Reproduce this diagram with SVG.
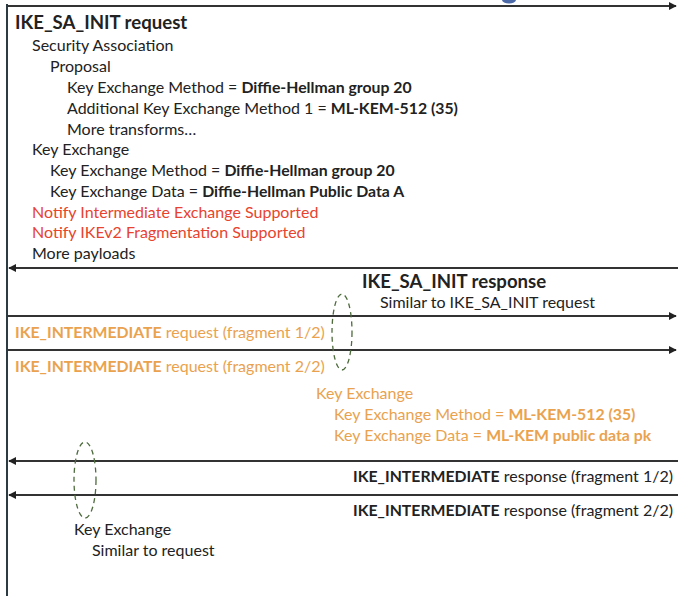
<svg xmlns="http://www.w3.org/2000/svg" width="678" height="596" viewBox="0 0 678 596">
  <style>
    text { font-family: Lato, "Noto Sans", "Liberation Sans", sans-serif; font-size: 16px; fill: #222; }
    .h { font-size: 18.6px; font-weight: bold; }
    .b { font-weight: bold; font-size: 15.8px; }
    .red { fill: #e8432e; }
    .org { fill: #eaa24e; }
    .msg { stroke: #333; stroke-width: 2; fill: none; }
    .oval { fill: none; stroke: #4d6b3c; stroke-width: 1.3; stroke-dasharray: 5 4; }
  </style>
  <defs>
    <marker id="ah" viewBox="0 0 10 10" refX="9" refY="5" markerWidth="4" markerHeight="4" orient="auto-start-reverse">
      <path d="M0,0 L10,5 L0,10 z" fill="#222"/>
    </marker>
  </defs>

  <rect width="678" height="596" fill="#fff"/>
  <!-- clipped title fragment at the very top -->
  <ellipse cx="509" cy="0" rx="7" ry="3.5" fill="#4d6aa8"/>

  <!-- lifeline -->
  <line x1="7" y1="4" x2="7" y2="596" stroke="#2c3a44" stroke-width="2"/>

  <g id="connectors">
    <line class="msg" x1="7" y1="6" x2="676" y2="6" marker-end="url(#ah)"/>
    <line class="msg" x1="678" y1="268" x2="9" y2="268" marker-end="url(#ah)"/>
    <line class="msg" x1="7" y1="316" x2="676" y2="316" marker-end="url(#ah)"/>
    <line class="msg" x1="7" y1="350" x2="676" y2="350" marker-end="url(#ah)"/>
    <line class="msg" x1="678" y1="461" x2="9" y2="461" marker-end="url(#ah)"/>
    <line class="msg" x1="678" y1="495" x2="9" y2="495" marker-end="url(#ah)"/>
  </g>

  <g id="sa-init-request">
    <text class="h" x="15" y="29">IKE_SA_INIT request</text>
    <text x="32" y="51">Security Association</text>
    <text x="50" y="72">Proposal</text>
    <text x="67" y="93">Key Exchange Method = <tspan class="b">Diffie-Hellman group 20</tspan></text>
    <text x="67" y="114">Additional Key Exchange Method 1 = <tspan class="b">ML-KEM-512 (35)</tspan></text>
    <text x="67" y="135">More transforms…</text>
    <text x="32" y="155">Key Exchange</text>
    <text x="50" y="176">Key Exchange Method = <tspan class="b">Diffie-Hellman group 20</tspan></text>
    <text x="50" y="197">Key Exchange Data = <tspan class="b">Diffie-Hellman Public Data A</tspan></text>
    <text class="red" x="32" y="218">Notify Intermediate Exchange Supported</text>
    <text class="red" x="32" y="238">Notify IKEv2 Fragmentation Supported</text>
    <text x="32" y="259">More payloads</text>
  </g>

  <g id="sa-init-response">
    <text class="h" x="362" y="288">IKE_SA_INIT response</text>
    <text x="380" y="308">Similar to IKE_SA_INIT request</text>
  </g>

  <g id="intermediate-request">
    <text class="org" x="15" y="338"><tspan class="b">IKE_INTERMEDIATE</tspan> request (fragment 1/2)</text>
    <text class="org" x="15" y="372"><tspan class="b">IKE_INTERMEDIATE</tspan> request (fragment 2/2)</text>
    <text class="org" x="316" y="399">Key Exchange</text>
    <text class="org" x="334" y="420">Key Exchange Method = <tspan class="b">ML-KEM-512 (35)</tspan></text>
    <text class="org" x="334" y="441">Key Exchange Data = <tspan class="b">ML-KEM public data pk</tspan></text>
    <ellipse id="req-fragments" class="oval" cx="342" cy="332" rx="10" ry="38"/>
  </g>

  <g id="intermediate-response">
    <text x="673" y="482" text-anchor="end"><tspan class="b">IKE_INTERMEDIATE</tspan> response (fragment 1/2)</text>
    <text x="673" y="516" text-anchor="end"><tspan class="b">IKE_INTERMEDIATE</tspan> response (fragment 2/2)</text>
    <text x="74" y="535">Key Exchange</text>
    <text x="92" y="556">Similar to request</text>
    <ellipse id="resp-fragments" class="oval" cx="85" cy="480" rx="11" ry="38"/>
  </g>
</svg>
